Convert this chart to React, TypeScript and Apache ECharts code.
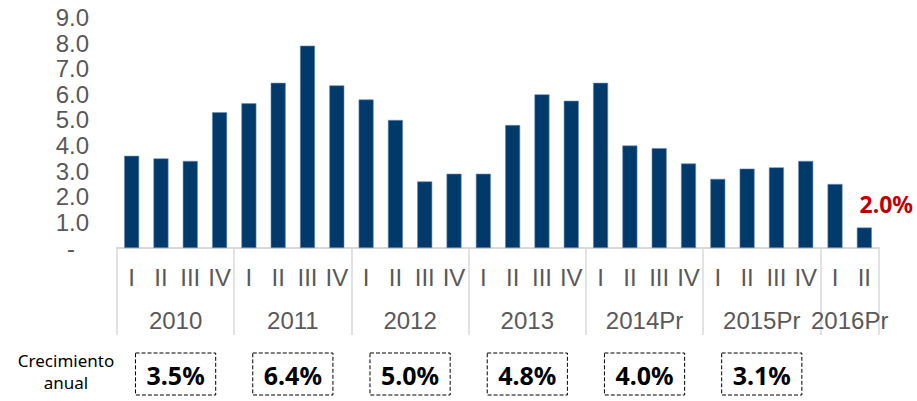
import React, { useEffect, useRef } from "react";
import * as echarts from "echarts";

const quarters = [
  "I", "II", "III", "IV",
  "I", "II", "III", "IV",
  "I", "II", "III", "IV",
  "I", "II", "III", "IV",
  "I", "II", "III", "IV",
  "I", "II", "III", "IV",
  "I", "II",
];
const values = [
  3.6, 3.5, 3.4, 5.3,
  5.65, 6.45, 7.9, 6.35,
  5.8, 5.0, 2.6, 2.9,
  2.9, 4.8, 6.0, 5.75,
  6.45, 4.0, 3.9, 3.3,
  2.7, 3.1, 3.15, 3.4,
  2.5, 0.8,
];
const years = ["2010", "2011", "2012", "2013", "2014Pr", "2015Pr", "2016Pr"];
const quartersPerYear = [4, 4, 4, 4, 4, 4, 2];
const annualGrowth = ["3.5%", "6.4%", "5.0%", "4.8%", "4.0%", "3.1%"];
const lastLabel = "2.0%";
const yTicks = [0, 1, 2, 3, 4, 5, 6, 7, 8, 9];
const sideLabel = "Crecimiento\nanual";

const FONT = "'Liberation Sans', Arial, sans-serif";
const FONT2 = "'Noto Sans', 'Open Sans', sans-serif";

export default function App() {
  const ref = useRef<HTMLDivElement>(null);
  useEffect(() => {
    document.body.style.margin = "0";
    if (!ref.current) return;
    const chart = echarts.init(ref.current, undefined, { renderer: "svg" });

    const starts: number[] = [];
    let acc = 0;
    quartersPerYear.forEach((q) => {
      starts.push(acc);
      acc += q;
    });
    const total = acc;
    const yearCenters = quartersPerYear.map((q, i) => starts[i] + q / 2);
    const boundaries = [...starts, total];

    const option: any = {
      animation: false,
      grid: {
        left: 117,
        right: 38,
        top: 17.5,
        bottom: 153,
        containLabel: false,
        outerBoundsMode: "none",
      },
      xAxis: [
        {
          type: "category",
          data: quarters,
          position: "bottom",
          axisLine: { show: true, lineStyle: { color: "#D9D9D9", width: 2 } },
          axisTick: {
            show: true,
            interval: (idx: number) => boundaries.includes(idx),
            length: 87,
            lineStyle: { color: "#D9D9D9", width: 1.5 },
          },
          axisLabel: {
            interval: 0,
            color: "#595959",
            fontFamily: FONT,
            fontSize: 24,
            margin: 17,
          },
          splitLine: { show: false },
        },
        {
          type: "value",
          min: 0,
          max: total,
          position: "bottom",
          axisLine: { show: false },
          axisTick: { show: false },
          splitLine: { show: false },
          axisLabel: {
            customValues: yearCenters,
            formatter: (v: number) => years[yearCenters.indexOf(v)] ?? "",
            color: "#595959",
            fontFamily: FONT,
            fontSize: 24,
            margin: 60,
          },
        },
        {
          type: "value",
          min: 0,
          max: total,
          position: "bottom",
          axisLine: { show: false },
          axisTick: { show: false },
          splitLine: { show: false },
          axisLabel: {
            customValues: yearCenters.slice(0, annualGrowth.length),
            formatter: (v: number) => annualGrowth[yearCenters.indexOf(v)] ?? "",
            color: "#000",
            fontFamily: FONT2,
            fontWeight: "bold",
            fontSize: 25,
            margin: 105,
            borderColor: "#000",
            borderWidth: 1,
            borderType: "dashed",
            padding: [9, 11, 8, 11],
          },
        },
      ],
      yAxis: {
        type: "value",
        min: yTicks[0],
        max: yTicks[yTicks.length - 1],
        interval: 1,
        axisLine: { show: false },
        axisTick: { show: false },
        splitLine: { show: false },
        axisLabel: {
          color: "#595959",
          fontFamily: FONT,
          fontSize: 24,
          margin: 28,
          formatter: (v: number) => (v === 0 ? "{d|-}" : v.toFixed(1)),
          rich: {
            d: {
              color: "#595959",
              fontFamily: FONT,
              fontSize: 24,
              padding: [0, 14, 0, 0],
            },
          },
        },
      },
      series: [
        {
          type: "bar",
          xAxisIndex: 0,
          barWidth: 15,
          data: values.map((v, i) =>
            i === values.length - 1
              ? {
                  value: v,
                  label: {
                    show: true,
                    position: "top",
                    distance: 12,
                    offset: [22, 0],
                    formatter: lastLabel,
                    color: "#C00000",
                    fontFamily: FONT2,
                    fontWeight: "bold",
                    fontSize: 23,
                  },
                }
              : v
          ),
          itemStyle: {
            color: "#003A6B",
            borderColor: "#6C8DB3",
            borderWidth: 0.6,
          },
        },
      ],
      graphic: [
        {
          type: "text",
          x: 66,
          y: 349,
          style: {
            text: sideLabel,
            fontFamily: FONT2,
            fontSize: 17,
            lineHeight: 22,
            fill: "#000",
            align: "center",
          },
        },
      ],
    };
    chart.setOption(option);
    return () => chart.dispose();
  }, []);
  return <div ref={ref} style={{ width: 917, height: 401 }} />;
}
